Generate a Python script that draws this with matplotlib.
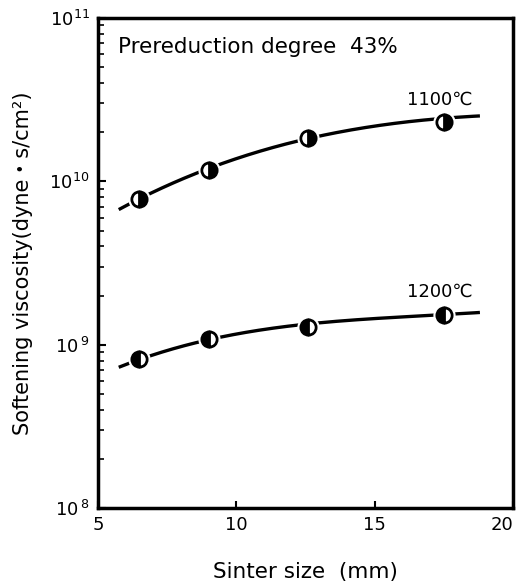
import numpy as np
import matplotlib
matplotlib.use("Agg")
import matplotlib.pyplot as plt
from matplotlib.ticker import LogLocator, NullFormatter

# Data
size_mm = [6.5, 9.0, 12.6, 17.5]
visc_1100 = [7.8e9, 1.18e10, 1.85e10, 2.3e10]
visc_1200 = [8.2e8, 1.08e9, 1.28e9, 1.52e9]

# smooth curve guide points
curve_x = [5.75, 6.5, 9.0, 12.6, 15.0, 17.5, 18.8]
curve_1100 = [6.6e9, 8.0e9, 1.2e10, 1.8e10, 2.2e10, 2.45e10, 2.5e10]
curve_1200 = [7.2e8, 8.2e8, 1.08e9, 1.32e9, 1.45e9, 1.55e9, 1.56e9]

labels = ["1100℃", "1200℃"]
xticks = [5, 10, 15, 20]
yticks = [1e8, 1e9, 1e10, 1e11]
ytick_labels = [r"$10^{\,8}$", r"$10^{\,9}$", r"$10^{10}$", r"$10^{11}$"]

plt.rcParams['font.family'] = ['DejaVu Sans', 'Noto Sans CJK JP']
fig = plt.figure(figsize=(5.22, 5.81), dpi=100)
ax = fig.add_axes([0.1877, 0.1256, 0.983 - 0.1877, 0.969 - 0.1256])
ax.set_yscale('log')
ax.set_xlim(5, 20)
ax.set_ylim(1e8, 1e11)

def smooth(xs, ys):
    c = np.polyfit(xs, np.log10(ys), 3)
    xx = np.linspace(min(xs), max(xs), 200)
    return xx, 10 ** np.polyval(c, xx)

for cy, vy, fs in [(curve_1100, visc_1100, 'right'), (curve_1200, visc_1200, 'left')]:
    xx, yy = smooth(curve_x, cy)
    ax.plot(xx, yy, color='black', lw=2.4, zorder=2, solid_capstyle='butt')
    ax.plot(size_mm, vy, 'o', ms=15, color='white', mec='white', zorder=3)
    ax.plot(size_mm, vy, 'o', ms=11, fillstyle=fs, markerfacecolor='black',
            markerfacecoloralt='white', mec='black', mew=2, zorder=4)

ax.text(440 / 522, 1 - 100 / 581, labels[0], transform=fig.transFigure,
        ha='center', va='center', fontsize=13)
ax.text(440 / 522, 1 - 292 / 581, labels[1], transform=fig.transFigure,
        ha='center', va='center', fontsize=13)
ax.text(118 / 522, 1 - 47 / 581, "Prereduction degree  43%", transform=fig.transFigure,
        ha='left', va='center', fontsize=15.5)

ax.set_xticks(xticks)
ax.set_xticklabels([str(t) for t in xticks], fontsize=13)
ax.get_xticklabels()[-1].set_horizontalalignment('right')
ax.get_xticklabels()[-1].set_x(20)
ax.set_yticks(yticks)
ax.set_yticklabels(ytick_labels, fontsize=13)
ax.yaxis.set_minor_locator(LogLocator(base=10, subs=np.arange(2, 10), numticks=20))
ax.yaxis.set_minor_formatter(NullFormatter())
ax.tick_params(axis='both', which='major', direction='in', length=6, width=1.5, pad=6)
ax.tick_params(axis='y', which='minor', direction='in', length=4, width=1.2)
ax.tick_params(axis='x', which='major', length=5)
for s in ax.spines.values():
    s.set_linewidth(2.5)

ax.set_xlabel("Sinter size  (mm)", fontsize=15.5, labelpad=20)
ax.set_ylabel("Softening viscosity(dyne・s/cm²)", fontsize=15, labelpad=12)

fig.savefig("out.png", dpi=100)
